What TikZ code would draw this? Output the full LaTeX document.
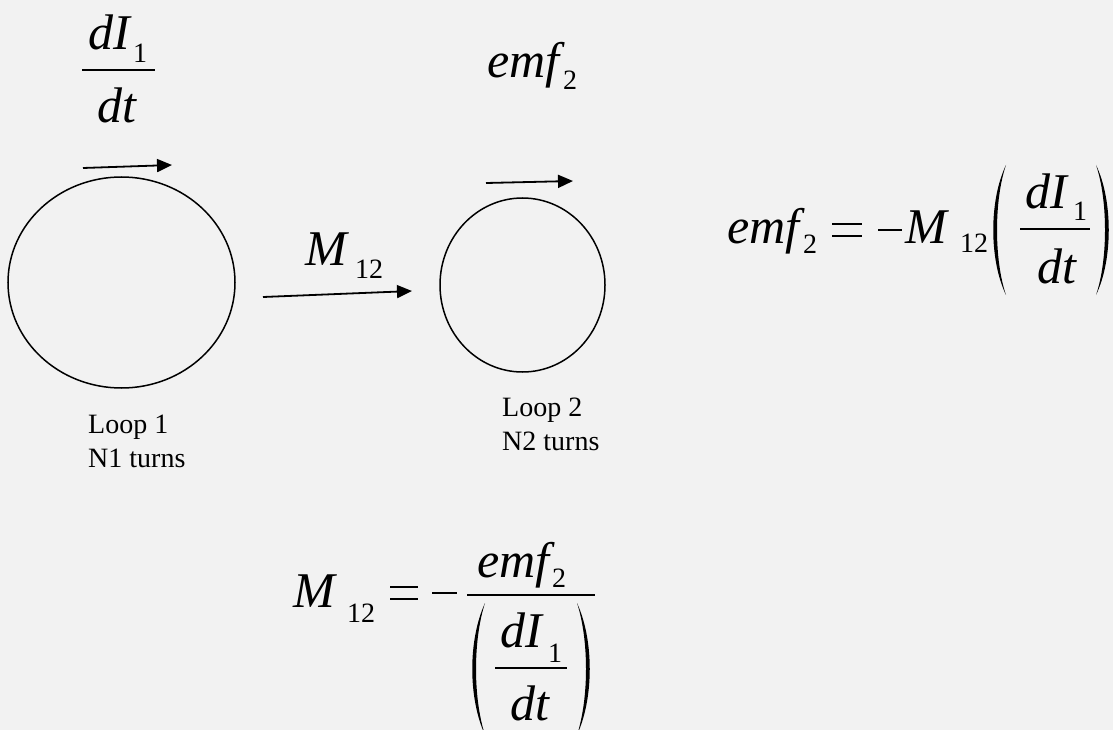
\documentclass[tikz,border=0pt]{standalone}
\usepackage{fontspec}
\setmainfont{Liberation Serif}
\usetikzlibrary{positioning,shapes.geometric,arrows.meta}
\definecolor{bgcol}{RGB}{242,242,242}
\tikzset{
  eqbig/.style={anchor=base west,inner sep=0pt,font=\fontsize{50}{60}\selectfont\itshape},
  eqsub/.style={anchor=base west,inner sep=0pt,font=\fontsize{28}{34}\selectfont},
  loopring/.style={draw,ellipse,line width=1.5pt,inner sep=0pt},
  arr/.style={line width=1.8pt,-{Triangle[length=15pt,width=13pt]}},
  bar/.style={line width=2pt}
}

\begin{document}
\begin{tikzpicture}[x=1pt,y=-1pt]
			\fill[bgcol] (0,0) rectangle (1113,730);
			\useasboundingbox (0,0) rectangle (1113,730);
			% the two loops
			\node[loopring,minimum width=227pt,minimum height=211pt] (loopone) at (121.5,282.5) {};
			\node[loopring,minimum width=165pt,minimum height=174pt] (looptwo) at (522.5,285) {};
			\node[eqsub] (loponename) at (88,433) {Loop 1};
			\node[eqsub] (loponeturns) at (88,467) {N1 turns};
			\node[eqsub] (loptwoname) at (502,416) {Loop 2};
			\node[eqsub] (loptwoturns) at (502,450) {N2 turns};
			% dI1/dt over loop 1
			\node[eqbig] (dIa) at (88,50) {dI};
			\node[eqsub] (dIaone) at (133,63) {1};
			\draw[bar] (82,70) -- (155,70);
			\node[eqbig] (dta) at (97,123) {dt};
			\coordinate (ia) at (83,168);
			\coordinate (ib) at (172,165);
			\draw[arr] (ia) -- (ib);
			% emf2 over loop 2
			\node[eqbig] (emfa) at (487,78) {emf};
			\node[eqsub] (emfatwo) at (563,90) {2};
			\coordinate (ea) at (486,183);
			\coordinate (eb) at (573,181);
			\draw[arr] (ea) -- (eb);
			% M12 between the loops
			\node[eqbig] (ma) at (305,265) {M};
			\node[eqsub] (maidx) at (355,278) {12};
			\coordinate (ma1) at (263,297);
			\coordinate (ma2) at (412,291);
			\draw[arr] (ma1) -- (ma2);
			% emf2 = -M12 (dI1/dt)
			\node[eqbig] (emfb) at (727,243) {emf};
			\node[eqsub] (emfbtwo) at (803,253) {2};
			\draw[line width=2.5pt] (832,224) -- (862,224) (832,236) -- (862,236);
			\draw[line width=2.5pt] (878,230) -- (902,230);
			\node[eqbig] (mb) at (905,243) {M};
			\node[eqsub] (mbidx) at (960,252) {12};
			\fill (1006,165) .. controls (989,200) and (989,260) .. (1006,295) .. controls (994,260) and (994,200) .. (1006,165);
			\fill (1096,165) .. controls (1113,200) and (1113,260) .. (1096,295) .. controls (1108,260) and (1108,200) .. (1096,165);
			\node[eqbig] (dIb) at (1025,208) {dI};
			\node[eqsub] (dIbone) at (1073,220) {1};
			\draw[bar] (1020,229) -- (1090,229);
			\node[eqbig] (dtb) at (1037,283) {dt};
			% M12 = -emf2/(dI1/dt)
			\node[eqbig] (mc) at (293,607) {M};
			\node[eqsub] (mcidx) at (347,622) {12};
			\draw[line width=2.5pt] (390,587) -- (418,587) (390,599) -- (418,599);
			\draw[line width=2.5pt] (432,593) -- (457,593);
			\node[eqbig] (emfc) at (477,577) {emf};
			\node[eqsub] (emfctwo) at (552,587) {2};
			\draw[bar] (467,595) -- (595,595);
			\fill (485,603) .. controls (468,640) and (468,698) .. (485,735) .. controls (473,698) and (473,640) .. (485,603);
			\fill (577,603) .. controls (594,640) and (594,698) .. (577,735) .. controls (589,698) and (589,640) .. (577,603);
			\node[eqbig] (dIc) at (500,647) {dI};
			\node[eqsub] (dIcone) at (548,662) {1};
			\draw[bar] (495,668) -- (567,668);
			\node[eqbig] (dtc) at (510,720) {dt};
\end{tikzpicture}
\end{document}
